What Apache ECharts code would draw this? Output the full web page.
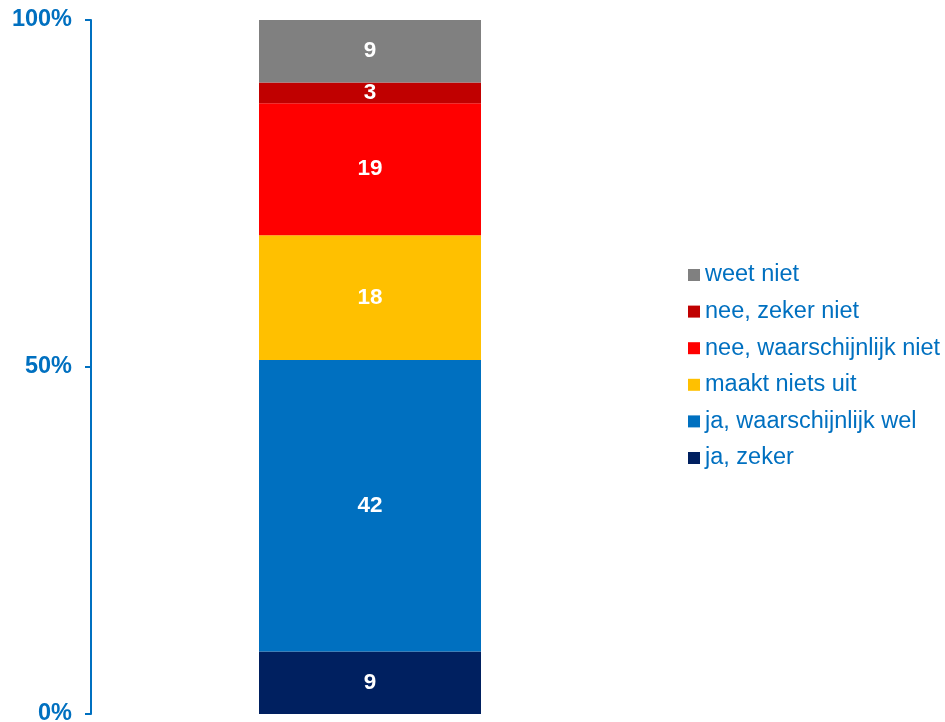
<!DOCTYPE html>
<html>
<head>
<meta charset="utf-8">
<script src="https://cdn.jsdelivr.net/npm/echarts@6/dist/echarts.min.js"></script>
<style>html,body{margin:0;padding:0;background:#fff}#c{width:945px;height:722px}</style>
</head>
<body>
<div id="c"></div>
<script>
var categories = [''];
var seriesNames = ['ja, zeker', 'ja, waarschijnlijk wel', 'maakt niets uit', 'nee, waarschijnlijk niet', 'nee, zeker niet', 'weet niet'];
var seriesValues = [[9], [42], [18], [19], [3], [9]];
var seriesColors = ['#002060', '#0070C0', '#FFC000', '#FF0000', '#C00000', '#808080'];
var yTicks = [0, 50, 100];

var chart = echarts.init(document.getElementById('c'), null, {renderer: 'canvas'});
var font = 'Liberation Sans, Arial, sans-serif';
var series = seriesNames.map(function (n, i) {
  return {
    name: n,
    type: 'bar',
    stack: 'total',
    barWidth: 222,
    data: seriesValues[i],
    itemStyle: {color: seriesColors[i]},
    label: {
      show: true,
      position: 'inside',
      color: '#fff',
      fontWeight: 'bold',
      fontSize: 22.5,
      fontFamily: font
    }
  };
});
chart.setOption({
  animation: false,
  grid: {left: 91, right: 296, top: 20, bottom: 8, containLabel: false, outerBoundsMode: 'none'},
  xAxis: {type: 'category', data: categories, show: false},
  yAxis: {
    type: 'value', min: yTicks[0], max: yTicks[yTicks.length - 1], interval: 50,
    splitLine: {show: false},
    axisLine: {show: true, lineStyle: {color: '#0070C0', width: 2}},
    axisTick: {show: true, length: 6, inside: false, lineStyle: {color: '#0070C0', width: 2}},
    axisLabel: {formatter: '{value}%', color: '#0070C0', fontWeight: 'bold', fontSize: 23.5, fontFamily: font, margin: 19}
  },
  legend: {
    orient: 'vertical',
    left: 688,
    top: 263,
    padding: 0,
    itemWidth: 12,
    itemHeight: 12,
    itemGap: 12.6,
    icon: 'rect',
    data: seriesNames.slice().reverse(),
    textStyle: {color: '#0070C0', fontSize: 23.5, fontFamily: font, lineHeight: 24, padding: [0, 0, 0, 0]}
  },
  series: series
});
</script>
</body>
</html>
